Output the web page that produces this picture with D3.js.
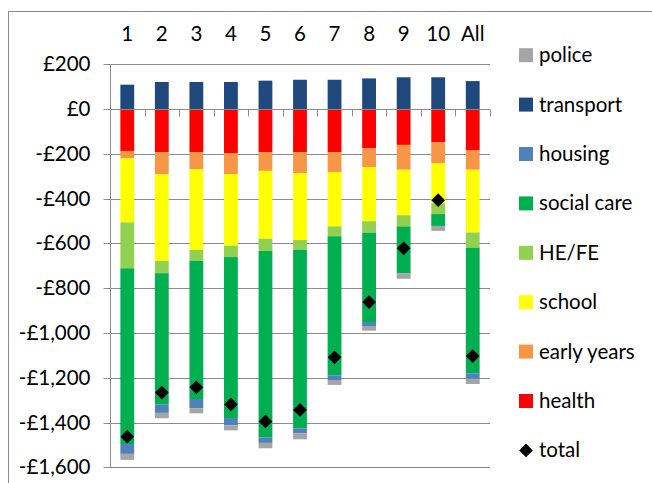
<!DOCTYPE html>
<html>
<head>
<meta charset="utf-8">
<script src="https://cdn.jsdelivr.net/npm/d3@7"></script>
<style>
  html, body { margin: 0; padding: 0; background: #fff; }
  svg { display: block; font-family: Lato, "Open Sans", sans-serif; }
</style>
</head>
<body>
<svg id="chart" width="652" height="483"></svg>
<script>
// Categories along the top axis
const categories = ["1", "2", "3", "4", "5", "6", "7", "8", "9", "10", "All"];

// Change per category, £ (positive above zero, negative below)
const health     = [-187, -192, -192, -198, -192, -192, -192, -175, -160, -148, -183];
const earlyYears = [-33, -99, -77, -93, -84, -95, -89, -84, -111, -94, -88];
const school     = [-286, -387, -360, -319, -303, -298, -243, -242, -203, -179, -280];
const heFe       = [-205, -55, -48, -51, -55, -44, -44, -51, -50, -48, -68];
const socialCare = [-785, -587, -618, -719, -832, -797, -621, -399, -209, -53, -561];
const housing    = [-44, -37, -41, -33, -25, -22, -21, -18, 0, 0, -25];
const transport  = [109, 121, 121, 121, 127, 131, 131, 137, 142, 142, 125];
const police     = [-27, -24, -23, -22, -24, -27, -22, -21, -25, -22, -23];
const total      = [-1463, -1266, -1243, -1319, -1395, -1344, -1109, -862, -622, -407, -1103];

// Value axis ticks
const yTicks = [200, 0, -200, -400, -600, -800, -1000, -1200, -1400, -1600];

// Series in stacking order
const series = [
  { key: "health",      values: health,     color: "#FF0000" },
  { key: "early years", values: earlyYears, color: "#F79646" },
  { key: "school",      values: school,     color: "#FFFF00" },
  { key: "HE/FE",       values: heFe,       color: "#92D050" },
  { key: "social care", values: socialCare, color: "#00B050" },
  { key: "housing",     values: housing,    color: "#4F81BD" },
  { key: "transport",   values: transport,  color: "#1F497D" },
  { key: "police",      values: police,     color: "#A5A5A5" }
];

const rows = categories.map((c, i) => {
  const r = { category: c, total: total[i] };
  series.forEach(s => { r[s.key] = s.values[i]; });
  return r;
});

const svg = d3.select("#chart");
const plot = { left: 110, right: 490, top: 64.3, bottom: 467.3 };
const gridColor = "#8c8c8c";
const labelSize = "20.5px";

// Outer chart border
svg.append("rect")
  .attr("x", 8.5).attr("y", 11.5)
  .attr("width", 700).attr("height", 500)
  .attr("fill", "none").attr("stroke", gridColor).attr("stroke-width", 1);

const x = d3.scaleBand()
  .domain(categories)
  .range([plot.left, plot.right])
  .paddingInner(0.6)
  .paddingOuter(0.3);

const y = d3.scaleLinear()
  .domain([-1600, 200])
  .range([plot.bottom, plot.top]);

// Horizontal gridlines
svg.append("g")
  .selectAll("line")
  .data(yTicks)
  .join("line")
  .attr("x1", plot.left).attr("x2", plot.right)
  .attr("y1", d => Math.round(y(d)) + 0.5)
  .attr("y2", d => Math.round(y(d)) + 0.5)
  .attr("stroke", gridColor).attr("stroke-width", 1);

// Value axis
const yAxis = d3.axisLeft(y)
  .tickValues(yTicks)
  .tickSize(7)
  .tickPadding(13)
  .tickFormat(d => (d < 0 ? "-" : "") + "£" + d3.format(",")(Math.abs(d)));

const gy = svg.append("g")
  .attr("transform", `translate(${plot.left + 0.5},0)`)
  .call(yAxis);
gy.select(".domain").attr("stroke", gridColor).attr("d", `M0,${plot.top}V${plot.bottom}`);
gy.selectAll(".tick line").attr("stroke", gridColor);
gy.selectAll(".tick").attr("transform", d => `translate(0,${Math.round(y(d)) + 0.5})`);
gy.selectAll(".tick text")
  .attr("fill", "#000")
  .style("font-size", labelSize)
  .style("font-family", "Lato, sans-serif");

// Stacked bars
const stack = d3.stack()
  .keys(series.map(s => s.key))
  .offset(d3.stackOffsetDiverging);
const layers = stack(rows);

svg.append("g")
  .selectAll("g")
  .data(layers)
  .join("g")
  .attr("fill", (d, i) => series[i].color)
  .selectAll("rect")
  .data(d => d)
  .join("rect")
  .attr("x", d => x(d.data.category))
  .attr("width", x.bandwidth())
  .attr("y", d => y(Math.max(d[0], d[1])))
  .attr("height", d => Math.abs(y(d[0]) - y(d[1])));

// Category axis along zero, ticks between categories, labels at the top
const zeroY = Math.round(y(0)) + 0.5;
svg.append("line")
  .attr("x1", plot.left).attr("x2", plot.right)
  .attr("y1", zeroY).attr("y2", zeroY)
  .attr("stroke", gridColor).attr("stroke-width", 1);

const step = x.step();
svg.append("g")
  .selectAll("line")
  .data(categories)
  .join("line")
  .attr("x1", (d, i) => Math.round(plot.left + step * (i + 1)) + 0.5)
  .attr("x2", (d, i) => Math.round(plot.left + step * (i + 1)) + 0.5)
  .attr("y1", zeroY).attr("y2", zeroY + 7)
  .attr("stroke", gridColor).attr("stroke-width", 1);

svg.append("g")
  .selectAll("text")
  .data(categories)
  .join("text")
  .attr("x", d => x(d) + x.bandwidth() / 2)
  .attr("y", 41)
  .attr("text-anchor", "middle")
  .style("font-size", labelSize)
  .text(d => d);

// Total markers
const diamond = d3.symbol().type(d3.symbolDiamond2).size(120);
svg.append("g")
  .selectAll("path")
  .data(rows)
  .join("path")
  .attr("transform", d => `translate(${x(d.category) + x.bandwidth() / 2},${y(d.total)})`)
  .attr("d", diamond)
  .attr("fill", "#000");

// Legend
const legendItems = series.slice().reverse().concat([{ key: "total", color: "#000", marker: true }]);
const legend = svg.append("g")
  .selectAll("g")
  .data(legendItems)
  .join("g")
  .attr("transform", (d, i) => `translate(519,${55.2 + 49.4 * i})`);

legend.filter(d => !d.marker)
  .append("rect")
  .attr("x", 0).attr("y", -7)
  .attr("width", 14).attr("height", 14)
  .attr("fill", d => d.color);

legend.filter(d => d.marker)
  .append("path")
  .attr("transform", "translate(7,0)")
  .attr("d", diamond)
  .attr("fill", "#000");

legend.append("text")
  .attr("x", 20)
  .attr("y", 7)
  .style("font-size", labelSize)
  .text(d => d.key);
</script>
</body>
</html>
